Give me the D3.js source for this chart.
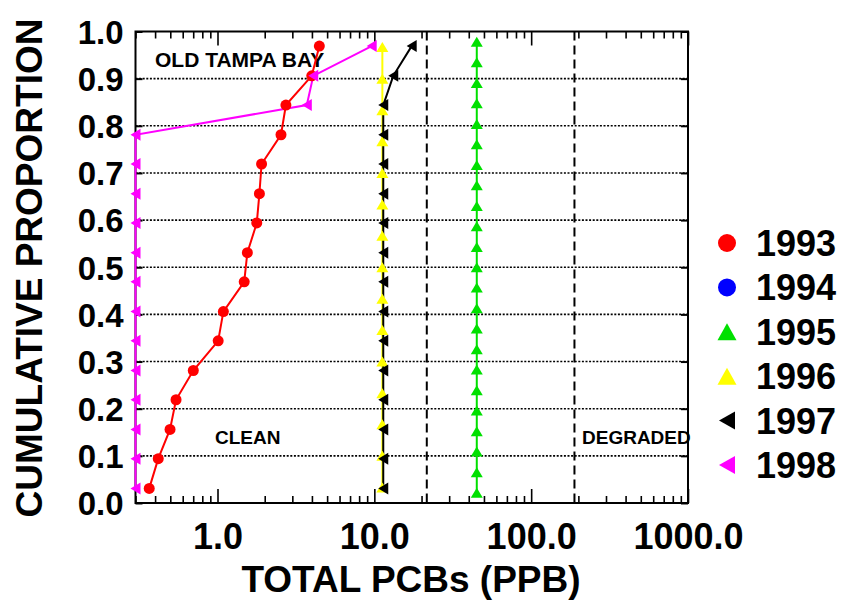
<!DOCTYPE html>
<html>
<head>
<meta charset="utf-8">
<script src="https://cdn.jsdelivr.net/npm/d3@7"></script>
<style>
  html, body { margin: 0; padding: 0; background: #fff; }
  svg { display: block; font-family: "Liberation Sans", Arial, Helvetica, sans-serif; font-weight: bold; }
</style>
</head>
<body>
<svg id="chart" width="844" height="605"></svg>
<script>
// Cumulative proportion of samples vs. total PCBs (ppb), Old Tampa Bay, by year
const years = ["1993", "1994", "1995", "1996", "1997", "1998"];
const colors = ["#ff0000", "#0000ff", "#00e000", "#ffff00", "#000000", "#ff00ff"];
const shapes = ["circle", "circle", "up", "up", "left", "left"];

const prop16 = [0.031, 0.094, 0.156, 0.219, 0.281, 0.344, 0.406, 0.469, 0.531, 0.594, 0.656, 0.719, 0.781, 0.844, 0.906, 0.969];
const prop15 = [0.033, 0.100, 0.167, 0.233, 0.300, 0.367, 0.433, 0.500, 0.567, 0.633, 0.700, 0.767, 0.833, 0.900, 0.967];
const prop23 = [0.022, 0.065, 0.109, 0.152, 0.196, 0.239, 0.283, 0.326, 0.370, 0.413, 0.457, 0.500, 0.543, 0.587, 0.630, 0.674, 0.717, 0.761, 0.804, 0.848, 0.891, 0.935, 0.978];

const pcb1993 = [0.367, 0.419, 0.498, 0.544, 0.701, 1.01, 1.09, 1.48, 1.55, 1.78, 1.85, 1.91, 2.54, 2.73, 3.99, 4.46];
const pcb1994 = [];
const pcb1995 = [45, 45, 45, 45, 45, 45, 45, 45, 45, 45, 45, 45, 45, 45, 45, 45, 45, 45, 45, 45, 45, 45, 45];
const pcb1996 = [11.25, 11.25, 11.25, 11.25, 11.25, 11.25, 11.25, 11.25, 11.25, 11.25, 11.25, 11.25, 11.25, 11.25, 11.25];
const pcb1997 = [11.4, 11.4, 11.4, 11.4, 11.4, 11.4, 11.4, 11.4, 11.4, 11.4, 11.4, 11.4, 11.4, 11.4, 13.2, 17.3];
const pcb1998 = [0.3, 0.3, 0.3, 0.3, 0.3, 0.3, 0.3, 0.3, 0.3, 0.3, 0.3, 0.3, 0.3, 3.71, 4.08, 9.62];

const pcbValues = [pcb1993, pcb1994, pcb1995, pcb1996, pcb1997, pcb1998];
const propValues = [prop16, [], prop23, prop15, prop16, prop16];

// sediment quality guidelines (TEL, PEL)
const guidelines = [21.6, 188.8];

const xTickValues = [1, 10, 100, 1000];
const xTickLabels = ["1.0", "10.0", "100.0", "1000.0"];
const yTickValues = [0, 0.1, 0.2, 0.3, 0.4, 0.5, 0.6, 0.7, 0.8, 0.9, 1.0];

const zoneLabels = [
  { text: "OLD TAMPA BAY", x: 155, y: 66.5, size: 21 },
  { text: "CLEAN", x: 215, y: 444, size: 19 },
  { text: "DEGRADED", x: 582, y: 444, size: 19 }
];

const svg = d3.select("#chart");
const plotLeft = 135.5, plotRight = 688, plotTop = 31.5, plotBottom = 503;

const x = d3.scaleLog().domain([0.3, 1000]).range([plotLeft, plotRight]);
const y = d3.scaleLinear().domain([0, 1]).range([plotBottom, plotTop]);

// horizontal dotted grid
svg.append("g").selectAll("line")
  .data(yTickValues.filter(v => v > 0 && v < 1))
  .join("line")
  .attr("x1", plotLeft).attr("x2", plotRight)
  .attr("y1", d => y(d)).attr("y2", d => y(d))
  .attr("stroke", "#000").attr("stroke-width", 1.6)
  .attr("stroke-dasharray", "2,1.6");

// guideline verticals
svg.append("g").selectAll("line")
  .data(guidelines)
  .join("line")
  .attr("x1", d => x(d)).attr("x2", d => x(d))
  .attr("y1", plotTop).attr("y2", plotBottom)
  .attr("stroke", "#000").attr("stroke-width", 2)
  .attr("stroke-dasharray", "9,5");

// minor / major log ticks, top and bottom, pointing inward
const minorTicks = [];
[0.1, 1, 10, 100].forEach(dec => {
  for (let k = 2; k <= 9; k++) {
    const v = dec * k;
    if (v > 0.3 && v < 1000) minorTicks.push(v);
  }
});

function tickAxes(axisFn, yPos) {
  const gMinor = svg.append("g").attr("transform", `translate(0,${yPos})`)
    .call(axisFn(x).tickValues(minorTicks).tickSize(-7).tickFormat(""));
  const gMajor = svg.append("g").attr("transform", `translate(0,${yPos})`)
    .call(axisFn(x).tickValues(xTickValues).tickSize(-14).tickFormat(""));
  [gMinor, gMajor].forEach(g => {
    g.select(".domain").remove();
    g.selectAll("line").attr("stroke", "#000").attr("stroke-width", 1.6);
  });
}
tickAxes(d3.axisBottom, plotBottom);
tickAxes(d3.axisTop, plotTop);

// y ticks on left and right, inward
const gyl = svg.append("g").attr("transform", `translate(${plotLeft},0)`)
  .call(d3.axisLeft(y).tickValues(yTickValues).tickSize(-7).tickFormat(""));
const gyr = svg.append("g").attr("transform", `translate(${plotRight},0)`)
  .call(d3.axisRight(y).tickValues(yTickValues).tickSize(-7).tickFormat(""));
[gyl, gyr].forEach(g => {
  g.select(".domain").remove();
  g.selectAll("line").attr("stroke", "#000").attr("stroke-width", 2);
});

// frame
svg.append("rect")
  .attr("x", plotLeft).attr("y", plotTop)
  .attr("width", plotRight - plotLeft).attr("height", plotBottom - plotTop)
  .attr("fill", "none").attr("stroke", "#000").attr("stroke-width", 2);

// tick labels
const gxl = svg.append("g").attr("transform", `translate(0,${plotBottom})`)
  .call(d3.axisBottom(x).tickValues(xTickValues).tickSize(0)
    .tickFormat((d, i) => xTickLabels[i]));
gxl.select(".domain").remove();
gxl.selectAll("text")
  .attr("y", 46).attr("dy", 0)
  .attr("font-size", 36).attr("font-weight", "bold")
  .attr("font-family", "Liberation Sans, Arial, sans-serif")
  .attr("fill", "#000");

const gyLab = svg.append("g").attr("transform", `translate(${plotLeft},0)`)
  .call(d3.axisLeft(y).tickValues(yTickValues).tickSize(0).tickFormat(d3.format(".1f")));
gyLab.select(".domain").remove();
gyLab.selectAll("text")
  .attr("x", -12).attr("dy", "0.36em")
  .attr("font-size", 33).attr("font-weight", "bold")
  .attr("font-family", "Liberation Sans, Arial, sans-serif")
  .attr("fill", "#000");

// axis titles
svg.append("text")
  .attr("x", 411).attr("y", 592)
  .attr("text-anchor", "middle")
  .attr("font-size", 37)
  .text("TOTAL PCBs (PPB)");

svg.append("text")
  .attr("transform", "translate(42,268) rotate(-90)")
  .attr("text-anchor", "middle")
  .attr("font-size", 37)
  .text("CUMULATIVE PROPORTION");

// zone annotations
svg.append("g").selectAll("text")
  .data(zoneLabels)
  .join("text")
  .attr("x", d => d.x).attr("y", d => d.y)
  .attr("font-size", d => d.size)
  .text(d => d.text);

// marker shapes
function markerPath(shape, w, h) {
  if (shape === "up") return `M0,${-h / 2}L${w / 2},${h / 2}L${-w / 2},${h / 2}Z`;
  if (shape === "left") return `M${-w / 2},0L${w / 2},${-h / 2}L${w / 2},${h / 2}Z`;
  return null;
}

const series = years.map((yr, i) => ({
  year: yr,
  color: colors[i],
  shape: shapes[i],
  points: pcbValues[i].map((v, j) => ({ v, p: propValues[i][j] }))
}));

const line = d3.line().x(d => x(d.v)).y(d => y(d.p));

// lines first
svg.append("g").selectAll("path")
  .data(series.filter(s => s.points.length))
  .join("path")
  .attr("d", s => line(s.points))
  .attr("fill", "none")
  .attr("stroke", s => s.color)
  .attr("stroke-width", 2);

// markers
series.forEach(s => {
  const g = svg.append("g").attr("fill", s.color);
  if (s.shape === "circle") {
    g.selectAll("circle").data(s.points).join("circle")
      .attr("cx", d => x(d.v)).attr("cy", d => y(d.p)).attr("r", 5.5);
  } else {
    const w = s.shape === "up" ? 12 : 10;
    const h = s.shape === "up" ? 10 : 12;
    g.selectAll("path").data(s.points).join("path")
      .attr("transform", d => `translate(${x(d.v)},${y(d.p)})`)
      .attr("d", markerPath(s.shape, w, h));
  }
});

// legend
const legend = svg.append("g");
const lx = 727, ly0 = 243, ldy = 44.4;
series.forEach((s, i) => {
  const cy = ly0 + i * ldy;
  if (s.shape === "circle") {
    legend.append("circle").attr("cx", lx).attr("cy", cy).attr("r", 9).attr("fill", s.color);
  } else {
    const w = s.shape === "up" ? 19 : 16;
    const h = s.shape === "up" ? 17 : 18;
    legend.append("path")
      .attr("transform", `translate(${lx},${cy})`)
      .attr("d", markerPath(s.shape, w, h))
      .attr("fill", s.color);
  }
  legend.append("text")
    .attr("x", 756).attr("y", cy).attr("dy", "0.36em")
    .attr("font-size", 36)
    .text(s.year);
});
</script>
</body>
</html>
